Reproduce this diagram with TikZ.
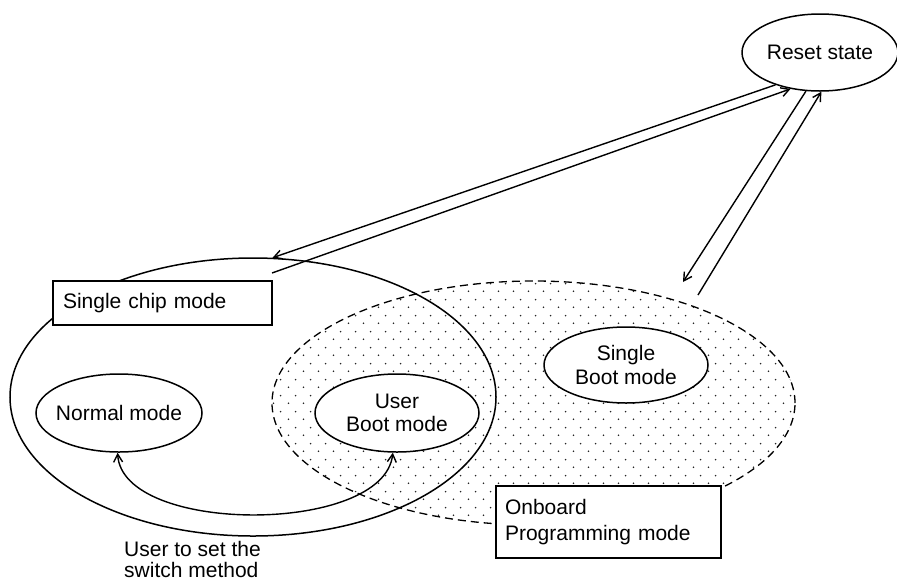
\documentclass[tikz,border=0pt]{standalone}
\usepackage{fontspec}
\setmainfont{Liberation Sans}
\usetikzlibrary{shapes.geometric,arrows.meta,patterns.meta}

\tikzdeclarepattern{
  name=mydots,
  type=uncolored,
  bounding box={(0pt,0pt) and (15pt,16pt)},
  tile size={(15pt,16pt)},
  code={
    \fill (3.75pt,4pt) circle (0.9pt);
    \fill (11.25pt,12pt) circle (0.9pt);
  }
}

\begin{document}
\begin{tikzpicture}[x=1pt,y=-1pt,
  every node/.style={font=\fontsize{21}{23.5}\selectfont},
  oval/.style={ellipse, draw, line width=1.5pt, inner sep=0pt, align=center},
  wbox/.style={rectangle, draw, line width=1.6pt, fill=white, align=left, inner xsep=10pt, inner ysep=0pt},
  tip/.style={-{Straight Barb[length=8pt,width=9pt]}, line width=1.4pt},
  tips/.style={{Straight Barb[length=8pt,width=9pt]}-{Straight Barb[length=8pt,width=9pt]}, line width=1.4pt}
]
\useasboundingbox (0,0) rectangle (897,582);

% onboard programming area (dashed, dotted fill)
\node[ellipse, draw, line width=1.3pt, dash pattern=on 8pt off 5pt,
      pattern={mydots}, pattern color=black!85,
      minimum width=523, minimum height=244, inner sep=0pt] (onboard) at (533.5,403) {};

% single chip mode area
\node[ellipse, draw, line width=1.5pt, minimum width=486, minimum height=278, inner sep=0pt] (chip) at (253,397) {};

% states
\node[oval, fill=white, minimum width=166, minimum height=78] (normal) at (119,413) {\makebox[0pt]{Normal mode}};
\node[oval, fill=white, minimum width=164, minimum height=78] (userboot) at (397,413) {User\\Boot mode};
\node[oval, fill=white, minimum width=164, minimum height=76] (singleboot) at (626,365) {Single\\Boot mode};
\node[oval, fill=white, minimum width=156, minimum height=77] (reset) at (820,52.5) {\makebox[0pt]{Reset state}};

% labels in boxes
\node[wbox, text width=199pt, minimum height=44] (chipbox) at (162.5,303) {Single chip mode};
\node[wbox, inner xsep=9pt, text width=207pt, minimum height=72,
      font=\fontsize{21}{26}\selectfont] (obbox) at (608.5,522) {Onboard\\Programming mode};

% free ends
\coordinate (chipfree) at (272,273);
\coordinate (obtip) at (683,282);
\coordinate (obfree) at (698,295);

% transitions
\draw[tip] (reset.216) -- (chip.82);
\draw[tip] (chipfree) -- (reset.231);
\draw[tip] (reset.250) -- (obtip);
\draw[tip] (obfree) -- (reset.272);

\draw[tips] (normal.268) .. controls (122,535) and (384,535) .. (userboot.264);

\node[anchor=north west, inner sep=0pt, align=left, font=\fontsize{21}{21}\selectfont] (switchlabel) at (124,541) {User to set the\\switch method};
\end{tikzpicture}
\end{document}
